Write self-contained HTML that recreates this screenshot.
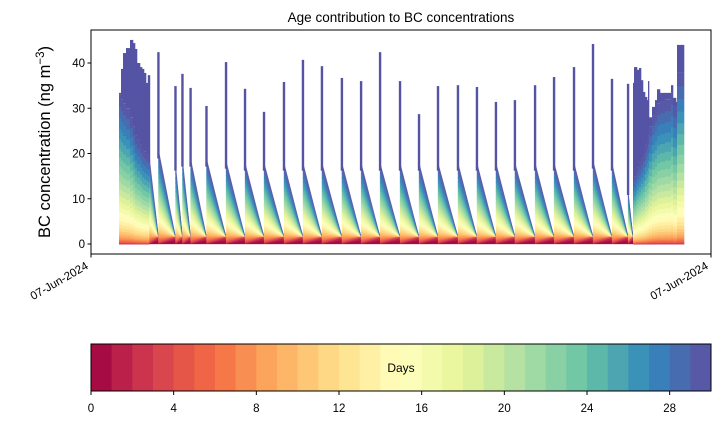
<!DOCTYPE html>
<html><head><meta charset="utf-8"><style>
body{margin:0;background:#fff;}
svg{display:block;font-family:"Liberation Sans","DejaVu Sans",sans-serif;}
</style></head><body>
<svg id="chart" width="720" height="425" viewBox="0 0 720 425">
<text x="401" y="22" font-size="13.5" text-anchor="middle">Age contribution to BC concentrations</text>
<g id="plot"></g>
<g id="axes"></g>
<g id="cbar"></g>
</svg>
<script>
// ---- data ----
const spikeDays  = [2.994,3.48,4.36,4.72,5.14,5.96,6.97,7.95,8.93,9.96,10.94,11.92,12.95,13.94,14.92,15.95,16.93,17.91,18.94,19.92,20.90,21.88,22.92,23.90,24.93,25.91,26.89,27.72];
const spikePeaks = [37.3,42.4,34.9,37.6,34.5,30.5,40.2,34.3,29.2,35.8,40.7,39.3,36.7,36.0,42.4,36.0,28.7,34.9,35.1,34.7,31.4,31.8,35.1,36.9,39.1,44.2,36.5,35.4];
const spikeLevels= [20,21,18,19,19,19,18.5,18,18,18,18,18,18,18,18,18,18,18,18,18,18,18,18,18,18,18.5,18,12];
const startDays    = [1.445,1.548,1.652,1.806,2.013,2.168,2.271,2.374,2.529,2.632,2.735,2.839,2.942,2.994];
const startTotals  = [33.4,38.7,42.2,43.3,45.1,44.4,43.1,40.0,39.1,38.7,37.8,35.6,37.3,37.3];
const startColored = [33,32,31,30,28,26,24,23,22,21,20.5,20,19.5,19];
const endDays    = [27.974,28.026,28.129,28.181,28.284,28.387,28.490,28.594,28.697,28.748,28.800,28.955,29.110,29.213,29.368,29.626,29.935,30.039,30.194,30.245,30.606];
const endTotals  = [35.6,39.1,39.1,38.5,38.9,36.2,33.6,32.5,31.8,36.0,28.0,30.3,31.8,34.2,33.4,33.4,35.1,32.3,31.4,44.0,43.3];
const endColored = [14,15,16,17,18,19,20,22,23,24,26,28.5,29.5,31,31.5,32,33.5,30.5,30,38,38];
const redStart = [0.05,0.1,0.15,0.2];   // young-age thickness just after a spike
const redEnd   = [0.9,0.4,0.2,0.15];    // young-age thickness just before next spike
const yTicks = [0,10,20,30,40];
const cbTicks = [0,4,8,12,16,20,24,28];
const nBands = 30;
// ---- scales ----
const X0=91,X1=711,Y0=30,Y1=254;
const xs=d=>91+d*19.375;
const ys=v=>244-v*4.525;
const cbx=v=>91+v*(620/30);
const anchors=['#9e0142','#d53e4f','#f46d43','#fdae61','#fee08b','#ffffbf','#e6f598','#abdda4','#66c2a5','#3288bd','#5e4fa2'];
function hex(h){return [1,3,5].map(i=>parseInt(h.substr(i,2),16));}
function spectral(t){const p=t*10,i=Math.min(9,Math.floor(p)),f=p-i;const a=hex(anchors[i]),b=hex(anchors[i+1]);
 return 'rgb('+a.map((c,k)=>Math.round(c+(b[k]-c)*f)).join(',')+')';}
const bandColor=j=>spectral((j+0.5)/nBands);
const nRed=redStart.length;
function cumFrom(j0,pw){const w=[];let s=0;for(let j=j0;j<nBands;j++){const v=Math.pow(j+1,pw);w.push(v);s+=v;}
 const c=[0];let a=0;w.forEach(v=>{a+=v;c.push(a/s);});return c;}
const cumAll=cumFrom(0,1.5), cumUp=cumFrom(nRed,1);
const NS='http://www.w3.org/2000/svg';
function mk(tag,attrs,parent){const e=document.createElementNS(NS,tag);for(const k in attrs)e.setAttribute(k,attrs[k]);parent.appendChild(e);return e;}
const plot=document.getElementById('plot');
const rs=redStart.reduce((a,b)=>a+b,0), re=redEnd.reduce((a,b)=>a+b,0);
// sawtooth triangles
for(let k=0;k<spikeDays.length;k++){
 const s=spikeDays[k], e=(k+1<spikeDays.length)?spikeDays[k+1]:endDays[0], L=spikeLevels[k];
 let b0=0,b1=0;
 for(let j=0;j<nRed;j++){
  const c=bandColor(j);
  const p=mk('polygon',{points:`${xs(s)},${ys(b0)} ${xs(s)},${ys(b0+redStart[j])} ${xs(e)},${ys(b1+redEnd[j])} ${xs(e)},${ys(b1)}`,fill:c,stroke:c,'stroke-width':0.3},plot);
  
  
  b0+=redStart[j];b1+=redEnd[j];
 }
 const U=L-rs;
 for(let j=0;j<nBands-nRed;j++){
  const c=bandColor(j+nRed);
  const p=mk('polygon',{points:`${xs(s)},${ys(rs+U*cumUp[j])} ${xs(s)},${ys(rs+U*cumUp[j+1])} ${xs(e)},${ys(re)}`,fill:c,stroke:c,'stroke-width':0.3},plot);
  
  
 }
 const r=mk('rect',{x:xs(s)-1.2,y:ys(spikePeaks[k]),width:2.4,height:ys(L*0.9)-ys(spikePeaks[k]),fill:'#5453a4'},plot);
 
 
}
// blocks
function block(days,tot,col,name){
 for(let i=0;i<days.length-1;i++){
  const x0=xs(days[i]),w=xs(days[i+1])-x0+0.3;
  const C=col[i];
  for(let j=0;j<nBands;j++){
   const r=mk('rect',{x:x0,y:ys(C*cumAll[j+1]),width:w,height:ys(C*cumAll[j])-ys(C*cumAll[j+1])+0.3,fill:bandColor(j)},plot);
   
   
  }
  const t=mk('rect',{x:x0,y:ys(tot[i]),width:w,height:Math.max(0,ys(C)-ys(tot[i])),fill:'#5453a4'},plot);
  
  
 }
}
block(startDays,startTotals,startColored,'start-block');
block(endDays,endTotals,endColored,'end-block');
// axes
const ax=document.getElementById('axes');
const fr=mk('rect',{x:X0,y:Y0,width:X1-X0,height:Y1-Y0,fill:'none',stroke:'#000','stroke-width':1},ax);


yTicks.forEach(v=>{
 const t=mk('line',{x1:X0-3.5,x2:X0,y1:ys(v),y2:ys(v),stroke:'#000'},ax);
 
 
 const l=mk('text',{x:X0-6,y:ys(v)+4,'font-size':11.5,'text-anchor':'end'},ax);
 l.textContent=v;
 
 
});
[X0,X1].forEach(x=>{
 const t=mk('line',{x1:x,x2:x,y1:Y1,y2:Y1+3.5,stroke:'#000'},ax);
 
 
 const l=mk('text',{x:x-2,y:Y1+14,'font-size':11.5,'text-anchor':'end',transform:`rotate(-30 ${x-2} ${Y1+14})`},ax);
 l.textContent='07-Jun-2024';
 
 
});
const yl=mk('text',{x:50,y:142,'font-size':16.5,'text-anchor':'middle',transform:'rotate(-90 50 142)'},ax);
yl.innerHTML='BC concentration (ng m<tspan dy="-6" font-size="11.5">−3</tspan><tspan dy="6">)</tspan>';


// colorbar
const cb=document.getElementById('cbar');
for(let j=0;j<nBands;j++){
 const r=mk('rect',{x:cbx(j),y:344,width:cbx(j+1)-cbx(j)+0.3,height:47,fill:bandColor(j)},cb);
 
 
}
const cbf=mk('rect',{x:91,y:344,width:620,height:47,fill:'none',stroke:'#000'},cb);


cbTicks.forEach(v=>{
 const t=mk('line',{x1:cbx(v),x2:cbx(v),y1:391,y2:395,stroke:'#000'},cb);
 
 
 const l=mk('text',{x:cbx(v),y:412,'font-size':11.5,'text-anchor':'middle'},cb);
 l.textContent=v;
 
 
});
const dl=mk('text',{x:401,y:372,'font-size':12,'text-anchor':'middle'},cb);
dl.textContent='Days';


</script>
</body></html>
